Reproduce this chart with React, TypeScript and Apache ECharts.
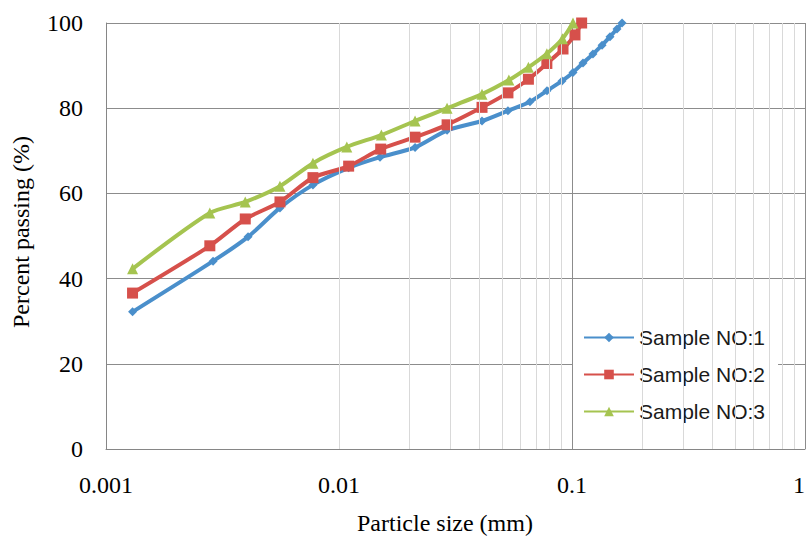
import React, { useEffect, useRef } from "react";
import * as echarts from "echarts";

const xTickLabels = ["0.001", "0.01", "0.1", "1"];
const seriesNames = ["Sample NO:1", "Sample NO:2", "Sample NO:3"];

const size1 = [0.0013, 0.00288, 0.00407, 0.00558, 0.00773, 0.011, 0.015, 0.0212, 0.0291, 0.0411, 0.0531, 0.066, 0.0781, 0.0906, 0.101, 0.1115, 0.123, 0.1346, 0.1456, 0.156, 0.164];
const pass1 = [32.2, 44.1, 49.8, 56.6, 62.0, 66.0, 68.5, 70.8, 74.8, 77.0, 79.4, 81.5, 84.1, 86.4, 88.4, 90.6, 92.7, 94.8, 96.8, 98.6, 100];

const size2 = [0.0013, 0.00279, 0.00396, 0.00558, 0.00773, 0.011, 0.0151, 0.0212, 0.0291, 0.0411, 0.0531, 0.065, 0.078, 0.0915, 0.103, 0.11];
const pass2 = [36.6, 47.7, 54.0, 58.0, 63.7, 66.4, 70.4, 73.2, 76.1, 80.2, 83.6, 86.8, 90.5, 93.9, 97.2, 100];

const size3 = [0.0013, 0.00279, 0.00396, 0.00558, 0.00773, 0.0108, 0.0152, 0.0212, 0.0291, 0.0411, 0.0536, 0.065, 0.078, 0.091, 0.101];
const pass3 = [42.3, 55.4, 58.0, 61.7, 67.1, 70.9, 73.7, 77.0, 80.0, 83.3, 86.6, 89.6, 92.8, 96.3, 100];

const minorGridValues = [
  0.002, 0.003, 0.004, 0.005, 0.006, 0.007, 0.008, 0.009,
  0.02, 0.03, 0.04, 0.05, 0.06, 0.07, 0.08, 0.09,
  0.2, 0.3, 0.4, 0.5, 0.6, 0.7, 0.8, 0.9,
];

const colors = ["#4A8FCB", "#D6504B", "#A5C450"];
const symbols = ["diamond", "rect", "triangle"];
const symbolSizes = [9, 11, 11];

const zip = (xs: number[], ys: number[]) => xs.map((x, i) => [x, ys[i]]);

export default function App() {
  const ref = useRef<HTMLDivElement>(null);
  useEffect(() => {
    document.body.style.margin = "0";
    const chart = echarts.init(ref.current!, null, { renderer: "svg" });
    const serif = "Liberation Serif";
    const data = [zip(size1, pass1), zip(size2, pass2), zip(size3, pass3)];
    chart.setOption({
      animation: false,
      backgroundColor: "#ffffff",
      grid: { left: 106, right: 1, top: 23, bottom: 88, containLabel: false, outerBoundsMode: "none" },
      xAxis: {
        type: "log",
        logBase: 10,
        min: 0.001,
        max: 1,
        axisLine: { show: true, lineStyle: { color: "#868686", width: 1 } },
        axisTick: { show: false },
        axisLabel: {
          margin: 24,
          fontFamily: serif,
          fontSize: 24,
          color: "#000",
          hideOverlap: false,
          alignMaxLabel: "right",
          formatter: (v: number) => xTickLabels[Math.round(Math.log10(v)) + 3],
        },
        splitLine: { show: true, lineStyle: { color: "#8c8c8c", width: 1 } },
      },
      yAxis: {
        type: "value",
        min: 0,
        max: 100,
        interval: 20,
        axisLine: { show: true, lineStyle: { color: "#868686", width: 1 } },
        axisTick: { show: false },
        axisLabel: { margin: 23, fontFamily: serif, fontSize: 24, color: "#000" },
        splitLine: { show: true, lineStyle: { color: "#8c8c8c", width: 1 } },
      },
      legend: {
        data: seriesNames,
        orient: "vertical",
        left: 573,
        top: 317,
        padding: [10, 13, 10, 10],
        itemGap: 16,
        itemWidth: 50,
        itemHeight: 12,
        backgroundColor: "#ffffff",
        textStyle: { fontFamily: "Liberation Sans", fontSize: 21, color: "#1a1a1a", lineHeight: 20 },
      },
      graphic: [
        {
          type: "text",
          left: 357,
          top: 511,
          style: { text: "Particle size (mm)", font: `24px ${serif}`, fill: "#000" },
        },
        {
          type: "text",
          x: 9,
          y: 328,
          rotation: Math.PI / 2,
          style: { text: "Percent passing (%)", font: `24px ${serif}`, fill: "#000" },
        },
      ],
      series: [
        {
          name: "minor",
          type: "line",
          data: [],
          silent: true,
          z: 0,
          markLine: {
            silent: true,
            symbol: ["none", "none"],
            label: { show: false },
            lineStyle: { color: "#d9d9d9", type: "solid", width: 1 },
            data: minorGridValues.map((v) => ({ xAxis: v })),
          },
        },
        ...seriesNames.map((name, i) => ({
          name,
          type: "line",
          data: data[i],
          smooth: 0.25,
          color: colors[i],
          symbol: symbols[i],
          symbolSize: symbolSizes[i],
          lineStyle: { width: 4, color: colors[i] },
          itemStyle: { color: colors[i] },
          z: 3 + i,
        })),
      ],
    });
    return () => chart.dispose();
  }, []);
  return <div ref={ref} style={{ width: 806, height: 537 }} />;
}
